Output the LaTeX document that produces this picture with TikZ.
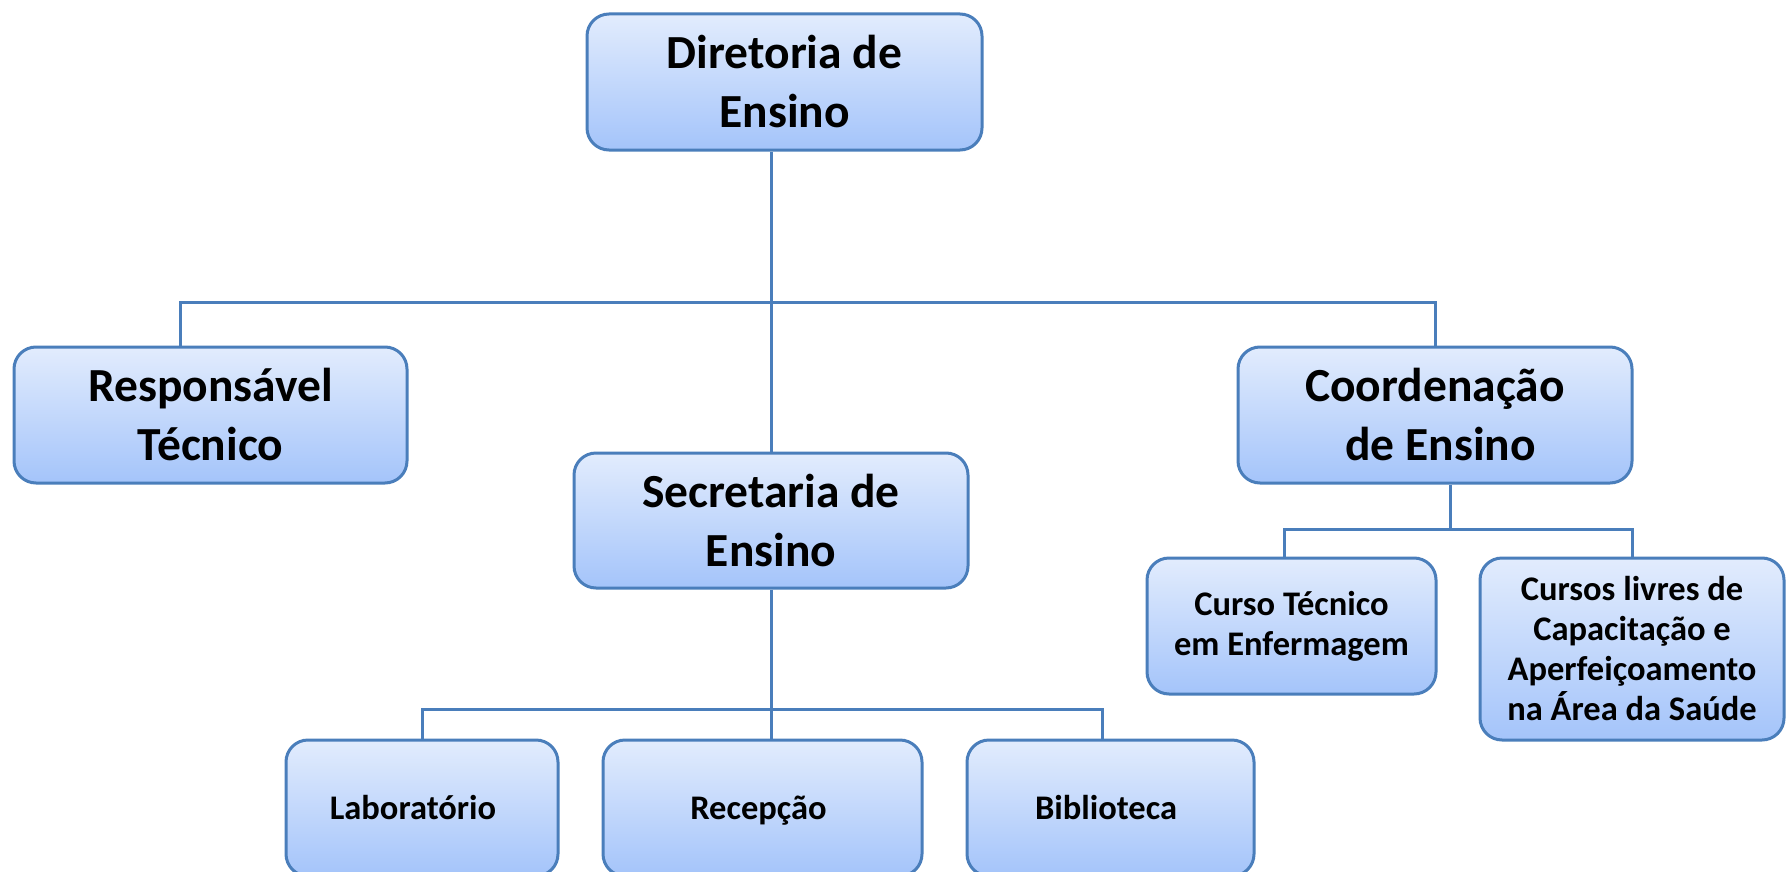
\documentclass[tikz,border=0pt]{standalone}
\usepackage{fontspec}
\setmainfont{Carlito}
\usetikzlibrary{calc}
\definecolor{edge}{RGB}{74,126,187}
\definecolor{topc}{RGB}{226,236,253}
\definecolor{botc}{RGB}{164,196,250}
\tikzset{
  box/.style={draw=edge, line width=3pt, rounded corners=22pt, top color=topc, bottom color=botc, inner sep=0pt, align=center},
  big/.style={box, font=\fontsize{47.5}{59}\selectfont\bfseries},
  small/.style={box, font=\fontsize{34.5}{40}\selectfont\bfseries},
  single/.style={small, text height=22pt, text depth=0pt},
  conn/.style={draw=edge, line width=3pt},
}
\begin{document}
\begin{tikzpicture}[x=1pt,y=-1pt]
\useasboundingbox[fill=white] (0,0) rectangle (1787,872);
% boxes
\node[big, minimum width=395pt, minimum height=136pt] (dir) at (784.5,82) {Diretoria de\\Ensino};
\node[big, minimum width=393pt, minimum height=136pt] (resp) at (210.5,415) {Responsável\\Técnico};
\node[big, minimum width=394pt, minimum height=136pt] (coord) at (1435,415) {Coordenação\\\hspace*{11pt}de Ensino};
\node[big, minimum width=394pt, minimum height=135pt] (sec) at (771,520.5) {Secretaria de\\Ensino};
\node[small, minimum width=289pt, minimum height=136pt] (curso) at (1291.5,626) {Curso Técnico\\em Enfermagem};
\node[small, minimum width=304pt, minimum height=182pt] (livres) at (1632,649) {Cursos livres de\\Capacitação e\\Aperfeiçoamento\\na Área da Saúde};
\node[single, minimum width=272pt, minimum height=136pt] (lab) at (422,808) {Laboratório\hspace*{18pt}};
\node[single, minimum width=319pt, minimum height=136pt] (rec) at (762.5,808) {Recepção\hspace*{8pt}};
\node[single, minimum width=287pt, minimum height=136pt] (bib) at (1110.5,808) {Biblioteca\hspace*{9pt}};
% bus coordinates
\coordinate (busA) at (0,302);
\coordinate (busB) at (0,529);
\coordinate (busC) at (0,709);
\coordinate (rtop) at ([xshift=-30.5pt]resp.north);
\coordinate (cbot) at ([xshift=15pt]coord.south);
\coordinate (ctop) at ([xshift=-7.5pt]curso.north);
\coordinate (btop) at ([xshift=-8.5pt]bib.north);
% connectors
\draw[conn] (sec.north) -- (sec.north |- dir.south);
\draw[conn] (rtop) |- (coord.north |- busA) -- (coord.north);
\draw[conn] (cbot) -- (cbot |- busB);
\draw[conn] (ctop) |- (livres.north |- busB) -- (livres.north);
\draw[conn] (sec.south) -- (sec.south |- rec.north);
\draw[conn] (lab.north) |- (btop |- busC) -- (btop);
\end{tikzpicture}
\end{document}
